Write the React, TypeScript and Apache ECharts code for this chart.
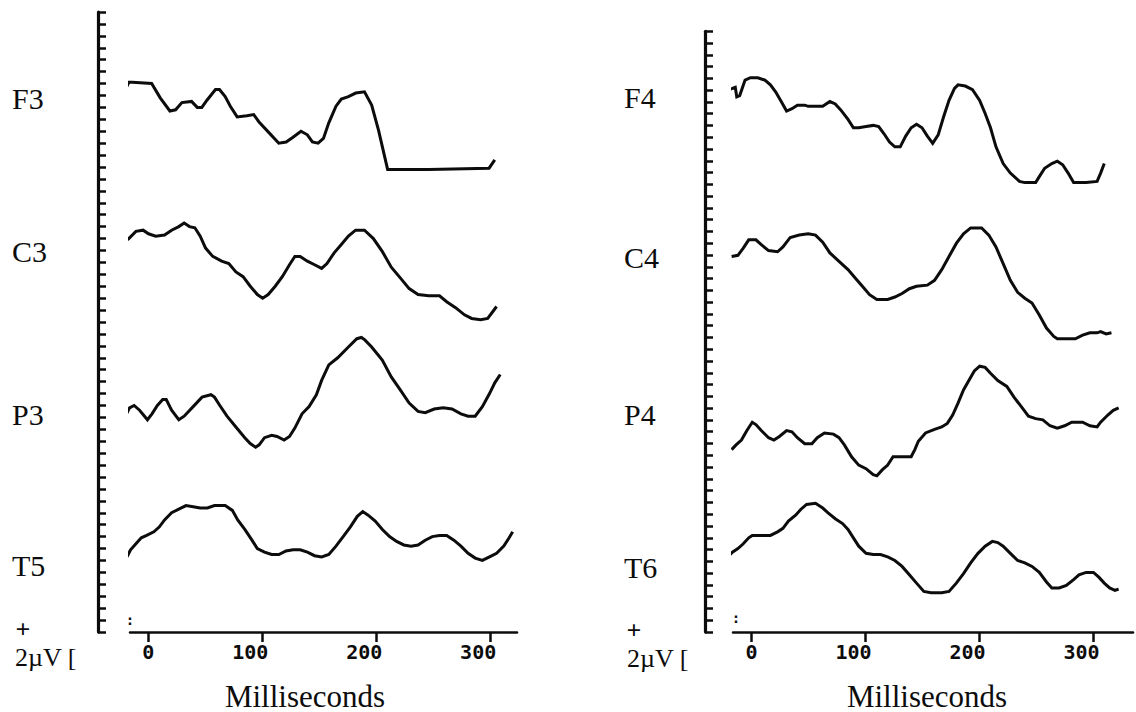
import React, { useEffect, useRef } from "react";
import * as echarts from "echarts";

// Time axis (ms) and amplitude in axis divisions (one y-tick = one division)
const xTickValues = [0, 100, 200, 300];
const leftChannels = ["F3", "C3", "P3", "T5"];
const rightChannels = ["F4", "C4", "P4", "T6"];
const xAxisTitle = "Milliseconds";
const calibrationSign = "+";
const calibrationLabel = "2\u00b5V [";

const F3 = [
  [-27.5, 46.6], [-26.9, 45.7], [-23, 45.3], [-20, 45.5], [-17, 46.1], [-14, 46.1], [3, 46.0], [10.5, 44.8],
  [19, 43.7], [24, 43.8], [29.5, 44.4], [38, 44.5], [43, 44.0], [47, 44.0], [51.5, 44.6], [59, 45.5],
  [62.5, 45.5], [67.5, 44.9], [72, 44.1], [78, 43.2], [86.5, 43.3], [92.5, 43.4], [97, 42.8], [106.7, 41.8],
  [114.5, 41.0], [121, 41.1], [127, 41.5], [134, 42.0], [139.6, 41.7], [144, 41.1], [149, 41.0], [153.7, 41.4],
  [158.4, 42.7], [164.7, 44.1], [169.4, 44.7], [175.6, 44.9], [182, 45.2], [189.7, 45.3], [196, 44.2],
  [202, 42.1], [210, 38.8], [246, 38.8], [299, 38.9], [304, 39.6],
];

const C3 = [
  [-23.9, 32.3], [-21.7, 32.7], [-17, 33.0], [-10.8, 33.6], [-4.5, 33.7], [0.2, 33.4], [6.5, 33.2], [14.3, 33.3],
  [20.5, 33.7], [26.8, 34.0], [31.5, 34.3], [36.2, 34.0], [40.9, 33.9], [45.6, 33.2], [50.3, 32.2], [56.6, 31.5],
  [64.4, 31.1], [70.7, 30.9], [76.9, 30.2], [83.2, 29.8], [89.5, 29.0], [95.7, 28.3], [100.4, 28.0], [105.2, 28.3],
  [111.4, 29.0], [117.6, 29.8], [123.9, 30.8], [128.6, 31.5], [133.3, 31.5], [139.6, 31.1], [145.9, 30.8],
  [152.1, 30.5], [156.8, 30.9], [163.1, 31.8], [169.4, 32.5], [175.6, 33.2], [181.9, 33.7], [189.7, 33.7],
  [197.5, 33.0], [205.4, 31.9], [213.2, 30.6], [221.1, 29.7], [228.9, 28.8], [236.7, 28.3], [246.1, 28.2],
  [255.5, 28.2], [261.8, 27.7], [269.6, 27.2], [277.4, 26.6], [283.7, 26.3], [291.6, 26.2], [297.8, 26.3],
  [302.5, 26.9], [305.6, 27.3],
];

const P3 = [
  [-20.2, 17.6], [-19.6, 18.2], [-16.4, 18.8], [-12.4, 19.0], [-7.6, 18.6], [-0.7, 17.8], [3.3, 18.3], [8, 19.0],
  [12.7, 19.5], [15.8, 19.5], [20.5, 18.6], [26.8, 17.8], [31.5, 18.1], [39.4, 18.9], [47.2, 19.7], [55, 19.9],
  [58.1, 19.7], [62.8, 19.0], [69.1, 18.1], [76.9, 17.2], [84.7, 16.3], [89.5, 15.8], [94.2, 15.5], [97.3, 15.7],
  [102, 16.3], [108.3, 16.5], [113, 16.4], [119.2, 16.1], [123.9, 16.4], [128.6, 17.1], [134.9, 18.3],
  [141.1, 18.9], [147.5, 19.9], [152.1, 21.1], [158.4, 22.4], [166.2, 23.0], [175.6, 23.9], [183, 24.6],
  [187, 24.7], [190, 24.5], [196, 23.9], [205.3, 22.8], [213.2, 21.4], [221.1, 20.3], [228.9, 19.2],
  [236.7, 18.5], [243, 18.4], [250.8, 18.7], [258.7, 18.8], [266.5, 18.7], [274.3, 18.3], [280.6, 18.1],
  [286.8, 18.1], [293.1, 18.9], [299.4, 20.0], [304, 20.9], [308.8, 21.6],
];

const T5 = [
  [-18.6, 6.3], [-15.5, 6.9], [-10.8, 7.4], [-6.1, 7.9], [-1.4, 8.1], [4.9, 8.4], [9.6, 8.8], [14.3, 9.4],
  [20.5, 10.0], [26.8, 10.3], [33.1, 10.6], [39.4, 10.5], [45.6, 10.4], [51.9, 10.4], [58.1, 10.6], [67.5, 10.6],
  [73.8, 10.2], [78.5, 9.4], [84.7, 8.6], [91, 7.7], [95.7, 7.0], [102, 6.7], [108.3, 6.5], [114.6, 6.5],
  [120.8, 6.8], [127.1, 6.9], [133.3, 6.9], [139.6, 6.7], [145.9, 6.4], [152.1, 6.3], [158.4, 6.5],
  [164.7, 7.2], [171, 8.0], [177.2, 8.8], [183.4, 9.7], [188.2, 10.1], [192.9, 9.8], [199.1, 9.3],
  [205.4, 8.6], [211.7, 8.0], [217.9, 7.6], [224.2, 7.3], [230.5, 7.2], [236.7, 7.3], [243, 7.7], [249.2, 8.0],
  [255.5, 8.1], [261.8, 8.1], [268.1, 7.7], [274.3, 7.2], [280.6, 6.6], [286.8, 6.2], [293.1, 6.0],
  [299.4, 6.3], [305.6, 6.6], [311.9, 7.2], [316.6, 7.9], [319.7, 8.4],
];

const F4 = [
  [-20, 45.5], [-16.8, 45.6], [-14.3, 45.7], [-13, 44.9], [-10.4, 45.0], [-7.9, 45.7], [-5.7, 46.3], [-1, 46.5],
  [5.4, 46.5], [11.7, 46.3], [16.5, 45.9], [21.2, 45.3], [26, 44.5], [30.7, 43.7], [35.4, 43.9], [40.2, 44.2],
  [46.6, 44.2], [49.7, 44.1], [56.1, 44.1], [62.4, 44.1], [68.7, 44.5], [73.4, 44.3], [78.2, 43.8], [84.6, 43.0],
  [89.3, 42.3], [94, 42.3], [100.4, 42.4], [106.7, 42.5], [111.5, 42.4], [116.2, 41.8], [121, 41.1],
  [125.7, 40.7], [130.4, 40.7], [135.2, 41.6], [140, 42.3], [144.7, 42.6], [149.5, 42.3], [154.2, 41.6],
  [158.9, 41.0], [163.7, 41.7], [168.4, 43.2], [173.2, 44.6], [178, 45.6], [181.1, 45.9], [187.5, 45.8],
  [193.8, 45.5], [200.1, 44.6], [204.9, 43.5], [209.6, 42.3], [214.4, 40.7], [220.7, 39.3], [227, 38.5],
  [235, 37.8], [239.7, 37.7], [249.2, 37.7], [252.4, 38.2], [257.1, 38.9], [263.4, 39.3], [268.2, 39.5],
  [272.9, 39.2], [277.7, 38.5], [282.5, 37.7], [293.5, 37.7], [303.1, 37.8], [306.2, 38.5], [309.4, 39.3],
];

const C4 = [
  [-17.5, 31.5], [-12, 31.6], [-7.3, 32.2], [-2.5, 32.9], [3.8, 32.9], [8.5, 32.5], [14.9, 32.0], [22.8, 31.9],
  [27.5, 32.3], [33.9, 33.1], [41.8, 33.3], [49.7, 33.4], [56.1, 33.3], [62.4, 32.7], [68.7, 31.8], [76.7, 31.1],
  [84.6, 30.4], [90.9, 29.7], [97.2, 29.0], [103.5, 28.3], [109.9, 27.9], [119.4, 27.9], [125.7, 28.1],
  [132, 28.4], [138.4, 28.8], [144.7, 29.0], [154.2, 29.1], [160.5, 29.5], [166.8, 30.4], [173.2, 31.5],
  [179.6, 32.6], [185.9, 33.4], [192.2, 33.9], [201.8, 33.9], [208.1, 33.3], [214.4, 32.3], [220.7, 30.9],
  [227, 29.5], [233.4, 28.5], [239.7, 28.0], [246, 27.6], [252.4, 26.6], [258.7, 25.5], [265.1, 24.8],
  [268.2, 24.6], [277.7, 24.6], [284, 24.6], [290.4, 24.9], [296.8, 25.1], [303.1, 25.1], [306.2, 25.2],
  [311, 25.0], [315.7, 25.1],
];

const P4 = [
  [-17.5, 15.3], [-13.6, 15.7], [-8.9, 16.1], [-4.1, 16.9], [0.6, 17.6], [3.8, 17.4], [8.5, 16.9], [14.9, 16.3],
  [19.6, 16.1], [24.4, 16.4], [30.7, 16.9], [35.4, 16.8], [40.2, 16.3], [46.6, 15.8], [52.9, 15.8], [57.6, 16.3],
  [63.9, 16.7], [71.8, 16.6], [76.7, 16.3], [81.4, 15.7], [87.7, 14.7], [94, 14.0], [100.4, 13.7], [106.7, 13.2],
  [109.9, 13.1], [114.6, 13.6], [119.4, 14.0], [124.1, 14.7], [132, 14.7], [140, 14.7], [143.2, 15.3],
  [146.3, 16.0], [152.6, 16.7], [160.5, 17.0], [166.8, 17.2], [171.7, 17.5], [176.4, 18.2], [181.1, 19.2],
  [185.9, 20.3], [190.6, 21.1], [195.4, 21.9], [200.1, 22.3], [204.9, 22.2], [209.6, 21.7], [216, 21.1],
  [223.9, 20.6], [230.2, 19.7], [236.6, 18.9], [242.9, 18.1], [249.2, 17.9], [255.5, 17.8], [261.8, 17.3],
  [268.2, 17.1], [274.6, 17.3], [280.9, 17.6], [290.4, 17.6], [296.8, 17.3], [303.1, 17.2], [306.2, 17.6],
  [312.5, 18.2], [317.3, 18.6], [322, 18.8],
];

const T6 = [
  [-20, 6.4], [-16.8, 6.7], [-12, 7.0], [-7.3, 7.4], [-2.5, 7.9], [0.6, 8.1], [8.5, 8.1], [16.5, 8.1],
  [22.8, 8.4], [27.5, 8.7], [32.3, 9.3], [38.6, 9.8], [43.3, 10.3], [48.2, 10.7], [56.1, 10.8], [62.4, 10.4],
  [67.1, 10.0], [73.4, 9.5], [79.8, 9.1], [84.6, 8.6], [89.3, 7.9], [94, 7.2], [100.4, 6.6], [106.7, 6.5],
  [113.1, 6.5], [119.4, 6.3], [125.7, 6.0], [132, 5.5], [138.4, 4.8], [144.7, 4.1], [151.1, 3.4], [157.4, 3.3],
  [166.8, 3.3], [173.2, 3.4], [179.6, 4.1], [185.9, 4.9], [192.2, 5.8], [198.6, 6.6], [204.9, 7.2], [211.2, 7.6],
  [216, 7.5], [220.7, 7.2], [227, 6.6], [233.4, 6.0], [239.7, 5.8], [246, 5.5], [252.4, 5.0], [258.7, 4.2],
  [263.4, 3.7], [269.8, 3.7], [276.1, 3.9], [282.5, 4.4], [287.2, 4.8], [293.5, 5.0], [299.9, 5.0], [304.6, 4.6],
  [309.4, 4.1], [314.1, 3.7], [318.8, 3.5], [322, 3.6],
];

const leftData = [F3, C3, P3, T5];
const rightData = [F4, C4, P4, T6];

export default function App() {
  const ref = useRef<HTMLDivElement>(null);

  useEffect(() => {
    if (!ref.current) return;
    const chart = echarts.init(ref.current, null, { renderer: "svg" });
    const ink = "#0c0c0c";
    const serif = "'Liberation Serif', 'Times New Roman', serif";
    const mono = "'DejaVu Sans Mono', monospace";

    const leftMax = 52;
    const rightMax = 50.4;
    const leftTicks = Array.from({ length: 53 }, (_, i) => i);
    const rightTicks = Array.from({ length: 52 }, (_, i) => (i * rightMax) / 51);

    const makeX = (gridIndex: number, min: number, max: number) => ({
      type: "value",
      gridIndex,
      min,
      max,
      position: "bottom",
      axisLine: { show: true, onZero: false, lineStyle: { color: ink, width: 2.5 } },
      axisTick: { show: true, length: 10, lineStyle: { color: ink, width: 2.5 }, customValues: xTickValues },
      axisLabel: {
        show: true,
        customValues: xTickValues,
        margin: 10,
        color: ink,
        fontFamily: mono,
        fontWeight: "bold",
        fontSize: 20,
        formatter: (v: number) => (v === 0 ? "0" : `${v}{h|00}`),
        rich: {
          h: { color: "rgba(0,0,0,0)", fontFamily: mono, fontWeight: "bold", fontSize: 20 },
        },
      },
      splitLine: { show: false },
    });

    const makeY = (gridIndex: number, max: number, offset: number, ticks: number[]) => ({
      type: "value",
      gridIndex,
      min: 0,
      max,
      position: "left",
      offset,
      axisLine: { show: true, onZero: false, lineStyle: { color: ink, width: 3.2 } },
      axisTick: { show: true, inside: true, length: 8, lineStyle: { color: ink, width: 2.5 }, customValues: ticks },
      axisLabel: { show: false },
      splitLine: { show: false },
    });

    const makeSeries = (data: number[][], idx: number, name: string) => ({
      name,
      type: "line",
      xAxisIndex: idx,
      yAxisIndex: idx,
      data,
      showSymbol: false,
      symbol: "none",
      clip: false,
      silent: true,
      lineStyle: { color: ink, width: 3, join: "miter" },
    });

    const text = (t: string, x: number, y: number, font: string, align = "left") => ({
      type: "text",
      x,
      y,
      silent: true,
      style: { text: t, font, fill: ink, textAlign: align, textVerticalAlign: "middle" },
    });

    const labelFont = `30px ${serif}`;
    const leftLabelY = [98, 251, 414, 565];
    const rightLabelY = [97, 257, 414, 567];

    const graphics = [
      ...leftChannels.map((c, i) => text(c, 12, leftLabelY[i], labelFont)),
      ...rightChannels.map((c, i) => text(c, 624, rightLabelY[i], labelFont)),
      text(xAxisTitle, 305, 696, `31px ${serif}`, "center"),
      text(xAxisTitle, 927, 696, `31px ${serif}`, "center"),
      text(calibrationSign, 23, 629, `bold 26px ${serif}`, "center"),
      text(calibrationSign, 634, 630, `bold 26px ${serif}`, "center"),
      text(calibrationLabel, 15, 657, `26px ${serif}`),
      text(calibrationLabel, 627, 658, `26px ${serif}`),
      text(":", 130, 620, `bold 14px ${mono}`, "center"),
      text(":", 736, 618, `bold 14px ${mono}`, "center"),
    ];

    chart.setOption({
      animation: false,
      backgroundColor: "#ffffff",
      grid: [
        { left: 130, top: 12, width: 387, height: 620 },
        { left: 733, top: 632 - rightMax * 11.92, width: 400, height: rightMax * 11.92 },
      ],
      xAxis: [makeX(0, -16, 323.5), makeX(1, -16.3, 334.6)],
      yAxis: [makeY(0, leftMax, 32, leftTicks), makeY(1, rightMax, 28, rightTicks)],
      series: [
        ...leftData.map((d, i) => makeSeries(d, 0, leftChannels[i])),
        ...rightData.map((d, i) => makeSeries(d, 1, rightChannels[i])),
      ],
      graphic: graphics,
    });

    return () => chart.dispose();
  }, []);

  return (
    <div
      ref={ref}
      style={{ position: "fixed", left: 0, top: 0, width: 1136, height: 712, background: "#fff" }}
    />
  );
}
